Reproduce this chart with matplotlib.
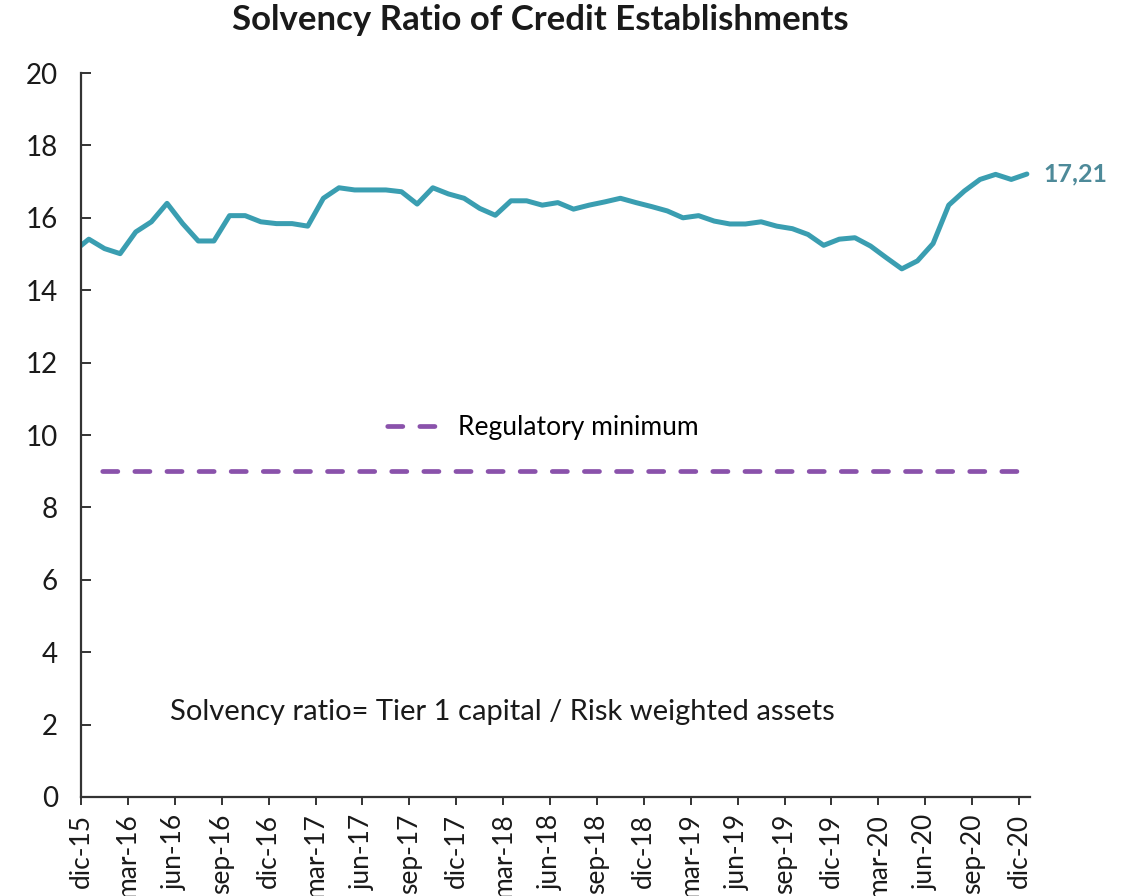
import numpy as np
import pandas as pd
import matplotlib.pyplot as plt

# --- Data ---
# monthly series, nov-15 .. dic-20 (nov-15 only shows as a clipped stub at the axis)
months = pd.date_range('2015-11-01', '2020-12-01', freq='MS')
month_names = ['ene', 'feb', 'mar', 'abr', 'may', 'jun',
               'jul', 'ago', 'sep', 'oct', 'nov', 'dic']
month_labels = [f"{month_names[d.month - 1]}-{str(d.year)[2:]}" for d in months]

solvency_ratio = [
    15.06,                                               # nov-15
    15.41, 15.15, 15.01, 15.61, 15.89, 16.40, 15.84,     # dic-15 .. jun-16
    15.36, 15.36, 16.06, 16.06, 15.89, 15.84, 15.84,     # jul-16 .. ene-17
    15.77, 16.54, 16.83, 16.77, 16.77, 16.77, 16.72,     # feb-17 .. ago-17
    16.38, 16.83, 16.66, 16.54, 16.26, 16.07, 16.47,     # sep-17 .. mar-18
    16.47, 16.35, 16.42, 16.24, 16.35, 16.44, 16.54,     # abr-18 .. oct-18
    16.42, 16.31, 16.19, 16.00, 16.06, 15.91, 15.83,     # nov-18 .. may-19
    15.83, 15.89, 15.77, 15.70, 15.54, 15.24, 15.41,     # jun-19 .. dic-19
    15.45, 15.22, 14.90, 14.59, 14.81, 15.29, 16.35,     # ene-20 .. jul-20
    16.74, 17.06, 17.20, 17.06, 17.21,                   # ago-20 .. dic-20
]
regulatory_minimum = [9.0] * (len(months) - 1)           # dic-15 .. dic-20

title = 'Solvency Ratio of Credit Establishments'
note = 'Solvency ratio= Tier 1 capital / Risk weighted assets'

# --- Plotting ---
plt.rcParams['font.family'] = ['Lato', 'DejaVu Sans']

fig = plt.figure(figsize=(11.35, 8.96), dpi=100)
ax = fig.add_axes([0.0714, 0.1105, 0.8361, 0.808])

x = np.arange(len(months))
line_color = '#3A9EB1'
min_color = '#8A52AB'
text_color = '#1a1a1a'

ax.plot(x, solvency_ratio, color=line_color, linewidth=3.6,
        solid_joinstyle='round', solid_capstyle='round')
ax.plot(x[1:], regulatory_minimum, color=min_color, linewidth=3.4,
        linestyle=(4, (3.2, 3.6)), dash_capstyle='round',
        label='Regulatory minimum')

# last value label
ax.annotate(f"{solvency_ratio[-1]:.2f}".replace('.', ','),
            xy=(x[-1], solvency_ratio[-1]), xytext=(12, 0),
            textcoords='offset points', va='center', ha='left',
            fontsize=18, fontweight='bold', color='#4E8A99',
            annotation_clip=False)

ax.set_xlim(0.5, 61.2)
ax.set_ylim(0, 20)
ax.set_yticks(np.arange(0, 21, 2))

tick_idx = np.arange(1, len(months), 3)
ax.set_xticks(tick_idx - 0.5)
ax.set_xticklabels([month_labels[i] for i in tick_idx], rotation=90)

for side in ['top', 'right']:
    ax.spines[side].set_visible(False)
for side in ['left', 'bottom']:
    ax.spines[side].set_color('#333333')
    ax.spines[side].set_linewidth(1.6)

ax.tick_params(axis='y', which='major', direction='in', length=7, width=1.4,
               color='#333333', labelsize=20, labelcolor=text_color)
ax.tick_params(axis='y', which='major', pad=16.5)
ax.tick_params(axis='x', which='major', direction='out', length=6, width=1.4,
               color='#333333', pad=6, labelsize=19, labelcolor=text_color)
ax.yaxis.get_major_ticks()[0].tick1line.set_visible(False)

leg = ax.legend(loc='center', bbox_to_anchor=(0.48, 0.51), frameon=False,
                fontsize=19, handlelength=2.6, handletextpad=0.6)

ax.text(0.094, 0.117, note, transform=ax.transAxes, fontsize=21,
        color=text_color, ha='left', va='center')

fig.text(540 / 1135, 1 - 20 / 896, title, ha='center', va='center',
         fontsize=25, fontweight='bold', color=text_color)

plt.savefig('out.png', dpi=100)
